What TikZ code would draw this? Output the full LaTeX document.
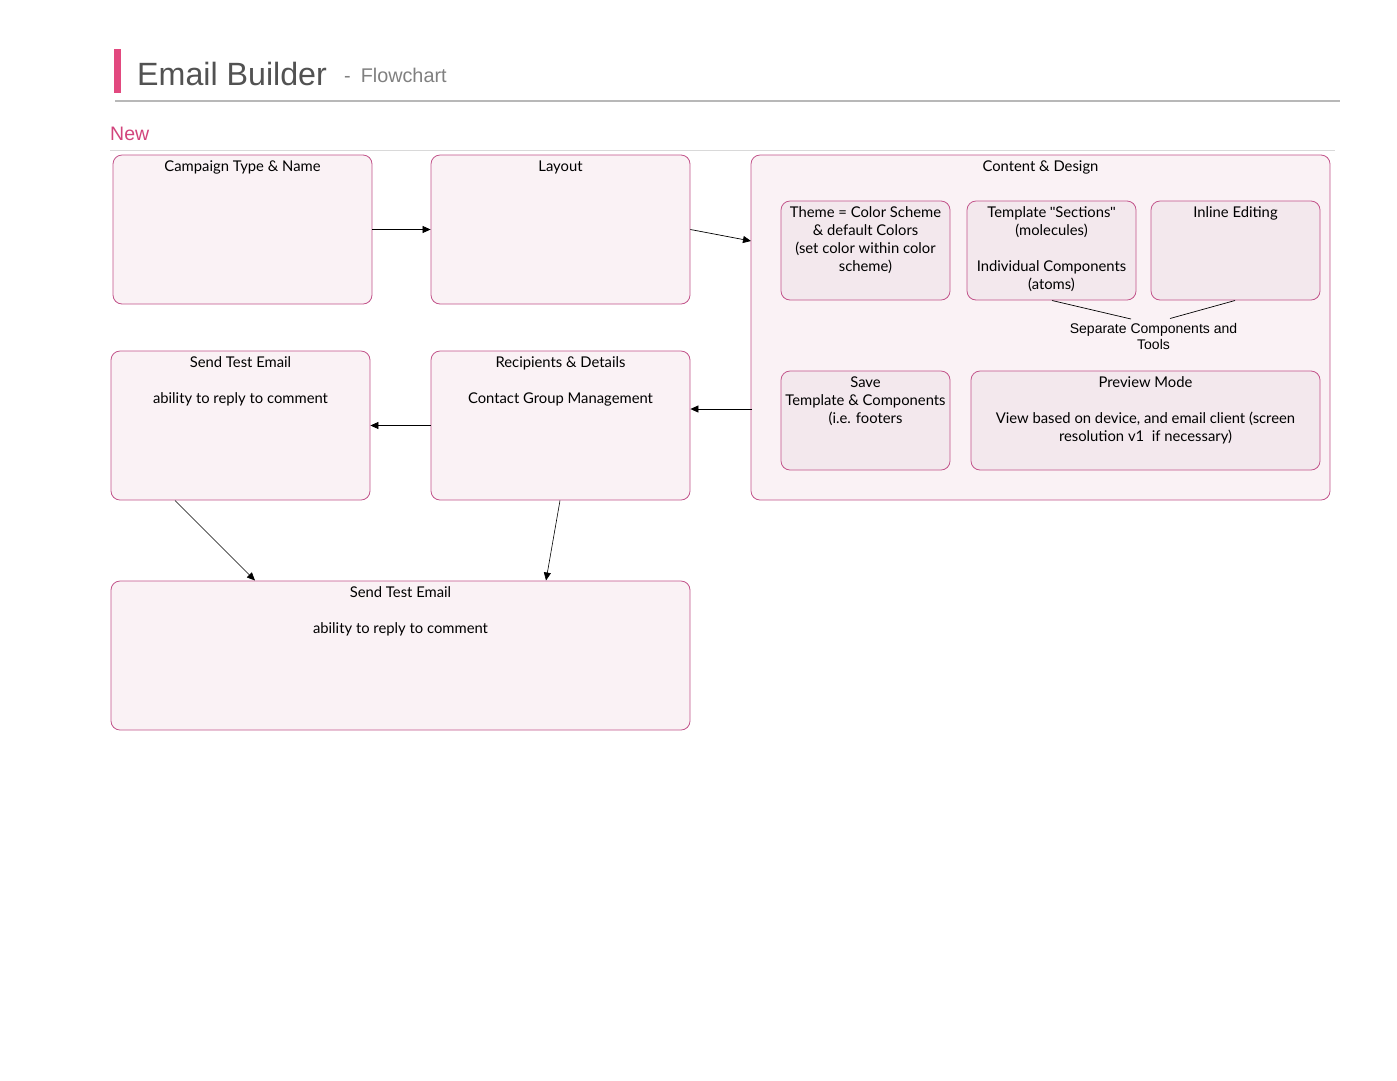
\documentclass[tikz,border=0pt]{standalone}
\usepackage{fontspec}
\setmainfont{Lato}
\newfontfamily\helv{Liberation Sans}
\usetikzlibrary{arrows.meta}
\definecolor{boxfill}{HTML}{FAF2F5}
\definecolor{subfill}{HTML}{F3E8ED}
\definecolor{boxline}{HTML}{C2538A}
\definecolor{pinkbar}{HTML}{E2497F}
\definecolor{newpink}{HTML}{D2447C}
\tikzset{
  box/.style={draw=boxline, fill=boxfill, rounded corners=9pt, line width=0.8pt, inner sep=0pt},
  subbox/.style={draw=boxline, fill=subfill, rounded corners=9pt, line width=0.8pt, inner sep=0pt},
  txt/.style={align=center, anchor=north, inner sep=0pt, font=\fontsize{14.8}{18}\selectfont, text=black},
  arr/.style={-{Triangle[length=8pt,width=7pt]}, line width=0.7pt},
  thin/.style={line width=0.7pt}
}
\begin{document}
\begin{tikzpicture}[x=1pt,y=-1pt]
\useasboundingbox (0,0) rectangle (1397,1080);
\fill[white] (0,0) rectangle (1397,1080);
% header
\fill[pinkbar] (114,49) rectangle (121,93);
\node[anchor=base west, inner sep=0pt, font=\helv\fontsize{32.2}{32}\selectfont, text=black!68] (title) at (137,85) {Email Builder};
\node[anchor=base west, inner sep=0pt, font=\helv\fontsize{19.8}{19}\selectfont, text=black!50] (sub) at (344,82) {-\hspace{10pt}Flowchart};
\draw[black!28, line width=1.8pt] (115,101) -- (1340,101);
\node[anchor=base west, inner sep=0pt, font=\helv\fontsize{19.5}{19}\selectfont, text=newpink] (new) at (110,140) {New};
\draw[black!15, line width=0.8pt] (110,150.5) -- (1335,150.5);
% main boxes
\node[box, minimum width=259pt, minimum height=149pt] (camp) at (242.5,229.5) {};
\node[txt] (campt) at (242.5,160.5) {Campaign Type \& Name};
\node[box, minimum width=259pt, minimum height=149pt] (layout) at (560.5,229.5) {};
\node[txt] (layoutt) at (560.5,160.5) {Layout};
\node[box, minimum width=579pt, minimum height=345pt] (content) at (1040.5,327.5) {};
\node[txt] (contentt) at (1040.5,160.5) {Content \& Design};
% sub boxes
\node[subbox, minimum width=169pt, minimum height=99pt] (theme) at (865.5,250.5) {};
\node[txt] (themet) at (865.5,206.5) {Theme = Color Scheme\\ \& default Colors\\ (set color within color\\ scheme)};
\node[subbox, minimum width=169pt, minimum height=99pt] (templ) at (1051.5,250.5) {};
\node[txt] (templt) at (1051.5,206.5) {Template {\helv"}Sections{\helv"}\\ (molecules)\\[18pt] Individual Components\\ (atoms)};
\node[subbox, minimum width=169pt, minimum height=99pt] (inline) at (1235.5,250.5) {};
\node[txt] (inlinet) at (1235.5,206.5) {Inline Editing};
\node[subbox, minimum width=169pt, minimum height=99pt] (save) at (865.5,420.5) {};
\node[txt] (savet) at (865.5,376.5) {Save\\ Template \& Components\\ (i.e. footers};
\node[subbox, minimum width=349pt, minimum height=99pt] (preview) at (1145.5,420.5) {};
\node[txt] (previewt) at (1145.5,376.5) {Preview Mode\\[18pt] View based on device, and email client (screen\\ resolution v1 \ if necessary)};
\node[align=center, inner sep=0pt, font=\helv\fontsize{14}{16}\selectfont] (sep) at (1153.5,336) {Separate Components and\\ Tools};
\coordinate (sepA) at (1131,319);
\coordinate (sepB) at (1170,318.5);
\draw[thin] (1052,300.5) -- (sepA);
\draw[thin] (1235,300.5) -- (sepB);
% second row
\node[box, minimum width=259pt, minimum height=149pt] (send) at (240.5,425.5) {};
\node[txt] (sendt) at (240.5,356.5) {Send Test Email\\[18pt] ability to reply to comment};
\node[box, minimum width=259pt, minimum height=149pt] (recip) at (560.5,425.5) {};
\node[txt] (recipt) at (560.5,356.5) {Recipients \& Details\\[18pt] Contact Group Management};
% bottom
\node[box, minimum width=579pt, minimum height=149pt] (bottom) at (400.5,655.5) {};
\node[txt] (bottomt) at (400.5,586.5) {Send Test Email\\[18pt] ability to reply to comment};
% arrows
\draw[arr] (camp.east) -- (layout.west);
\draw[arr] (layout.east) -- (751,241);
\draw[arr] (752,409) -- (recip.east |- 0,409);
\draw[arr] (recip.west) -- (send.east);
\draw[arr, line width=0.6pt] (175,500.5) -- (255,580.5);
\draw[arr, line width=0.6pt] (560,500.5) -- (546,580.5);
\end{tikzpicture}
\end{document}
